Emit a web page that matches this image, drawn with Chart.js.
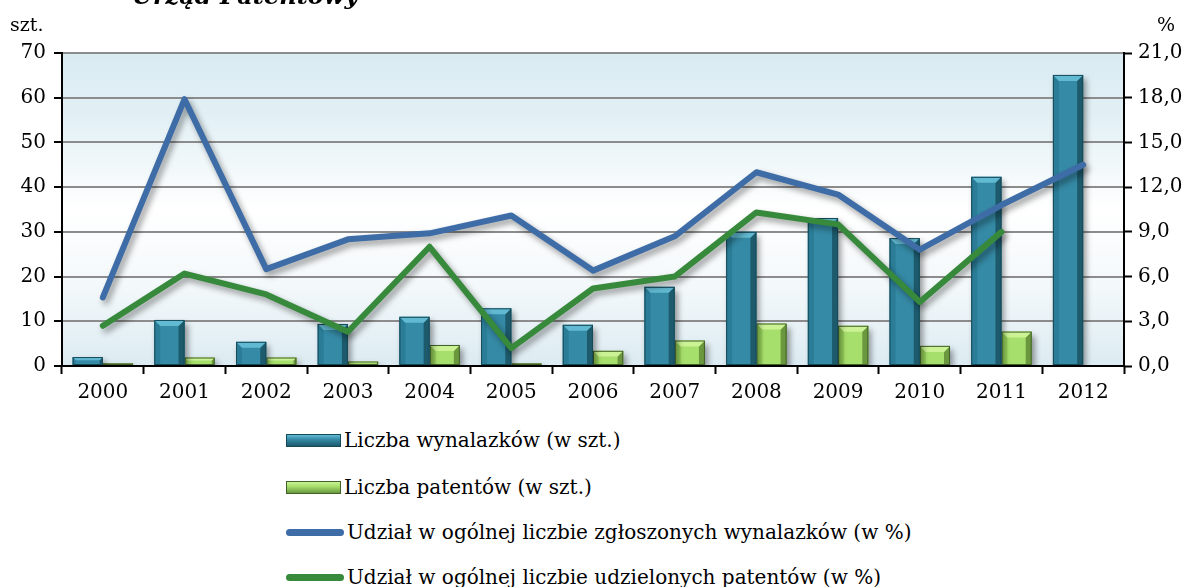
<!DOCTYPE html>
<html lang="pl">
<head>
<meta charset="utf-8">
<script src="https://cdn.jsdelivr.net/npm/chart.js@4.4.1/dist/chart.umd.min.js"></script>
<style>
  html, body { margin: 0; padding: 0; background: #fff; }
  #wrap { position: relative; width: 1192px; height: 587px; overflow: hidden; font-family: 'DejaVu Serif', serif; color: #000; }
  #chart { position: absolute; left: 0; top: 0; }
  .title { position: absolute; left: 132px; top: -19px; font-size: 24px; font-weight: bold; font-style: italic; }
  .unit { position: absolute; font-size: 19px; }
  .legend { position: absolute; left: 0; top: 0; }
  .row { position: absolute; display: flex; align-items: center; font-size: 20px; white-space: nowrap; }
  .sym { display: inline-block; margin-right: 3px; }
</style>
</head>
<body>
<div id="wrap">
  <canvas id="chart" width="1192" height="420"></canvas>
  <div class="title">Urząd Patentowy</div>
  <div class="unit" style="left:10px; top:13px;">szt.</div>
  <div class="unit" style="left:1157px; top:13px;">%</div>
  <div class="legend" id="legend"></div>
</div>
<script>
// years on the x axis
const years = ['2000', '2001', '2002', '2003', '2004', '2005', '2006', '2007', '2008', '2009', '2010', '2011', '2012'];

// counts (left axis, szt.)
const inventions = [2.0, 10.3, 5.4, 9.4, 11.0, 12.9, 9.2, 17.7, 30.0, 33.1, 28.6, 42.3, 65.1];
const patents = [0.6, 1.9, 1.9, 1.0, 4.7, 0.6, 3.4, 5.7, 9.5, 9.0, 4.5, 7.7, null];

// shares (right axis, %)
const inventionShare = [4.6, 17.9, 6.5, 8.5, 8.9, 10.1, 6.4, 8.7, 13.0, 11.5, 7.8, 10.8, 13.5];
const patentShare = [2.7, 6.2, 4.8, 2.3, 8.0, 1.2, 5.2, 6.0, 10.3, 9.5, 4.3, 9.0, null];

const legendLabels = [
  'Liczba wynalazków (w szt.)',
  'Liczba patentów (w szt.)',
  'Udział w ogólnej liczbie zgłoszonych wynalazków (w %)',
  'Udział w ogólnej liczbie udzielonych patentów (w %)'
];

const FONT = "'DejaVu Serif', serif";
const FONT_SIZE = 20;

// bevel colours for the two bar series
const bevel = {
  blue: { main: '#358aa5', top: '#62bad2', left: '#2b7d97', right: '#1d5a6c', edge: '#174a59' },
  green: { main: '#a7df6c', top: '#cbf295', left: '#93cc58', right: '#6b983f', edge: '#41602a' }
};

// light blue -> white -> light blue plot background
const plotBackground = {
  id: 'plotBackground',
  beforeDraw(chart) {
    const { ctx, chartArea: a } = chart;
    const g = ctx.createLinearGradient(0, a.top, 0, a.bottom);
    g.addColorStop(0, '#d9ebf2');
    g.addColorStop(0.2, '#e2f0f5');
    g.addColorStop(0.5, '#ffffff');
    g.addColorStop(0.75, '#f3f8fa');
    g.addColorStop(1, '#dcebf2');
    ctx.save();
    ctx.fillStyle = g;
    ctx.fillRect(a.left, a.top, a.right - a.left, a.bottom - a.top);
    ctx.restore();
  }
};

// soft drop shadow under bars and lines, bevel faces on bars
const shading = {
  id: 'shading',
  beforeDatasetDraw(chart, args) {
    const ctx = chart.ctx;
    ctx.save();
    ctx.shadowColor = 'rgba(0,0,0,0.4)';
    ctx.shadowBlur = 6;
    ctx.shadowOffsetX = 3;
    ctx.shadowOffsetY = 4;
  },
  afterDatasetDraw(chart, args) {
    const ctx = chart.ctx;
    ctx.restore();
    const ds = chart.data.datasets[args.index];
    if (ds.type !== 'bar') return;
    const c = bevel[ds.tone];
    args.meta.data.forEach((bar, i) => {
      if (ds.data[i] == null) return;
      const l = bar.x - bar.width / 2, r = bar.x + bar.width / 2;
      const t = bar.y, b = bar.base;
      const d = Math.min(6, (b - t) / 2.5);
      const poly = (pts, fill) => {
        ctx.beginPath();
        ctx.moveTo(pts[0][0], pts[0][1]);
        pts.slice(1).forEach(p => ctx.lineTo(p[0], p[1]));
        ctx.closePath();
        ctx.fillStyle = fill;
        ctx.fill();
      };
      ctx.save();
      poly([[l, t], [l + d, t + d], [l + d, b], [l, b]], c.left);
      poly([[r, t], [r - d, t + d], [r - d, b], [r, b]], c.right);
      poly([[l, t], [r, t], [r - d, t + d], [l + d, t + d]], c.top);
      ctx.strokeStyle = c.edge;
      ctx.lineWidth = 1;
      ctx.strokeRect(l + 0.5, t + 0.5, r - l - 1, b - t - 1);
      ctx.restore();
    });
  }
};

const chart = new Chart(document.getElementById('chart'), {
  data: {
    labels: years,
    datasets: [
      { type: 'bar', label: legendLabels[0], data: inventions, tone: 'blue', backgroundColor: bevel.blue.main, yAxisID: 'y', order: 2, barPercentage: 1, categoryPercentage: 0.74 },
      { type: 'bar', label: legendLabels[1], data: patents, tone: 'green', backgroundColor: bevel.green.main, yAxisID: 'y', order: 2, barPercentage: 1, categoryPercentage: 0.74 },
      { type: 'line', label: legendLabels[2], data: inventionShare, borderColor: '#3e6ca7', borderWidth: 6, pointRadius: 0, tension: 0, borderCapStyle: 'round', borderJoinStyle: 'round', yAxisID: 'y1', order: 1 },
      { type: 'line', label: legendLabels[3], data: patentShare, borderColor: '#378a3b', borderWidth: 6, pointRadius: 0, tension: 0, borderCapStyle: 'round', borderJoinStyle: 'round', yAxisID: 'y1', order: 0 }
    ]
  },
  options: {
    responsive: false,
    animation: false,
    events: [],
    layout: { padding: { top: 53 } },
    plugins: { legend: { display: false }, tooltip: { enabled: false } },
    scales: {
      x: {
        offset: true,
        grid: { offset: true, drawOnChartArea: false, tickLength: 8, tickColor: '#000', tickWidth: 2 },
        border: { color: '#000', width: 2 },
        ticks: { color: '#000', font: { family: FONT, size: FONT_SIZE }, padding: 7, maxRotation: 0 },
        afterFit(s) { s.height = 54; }
      },
      y: {
        position: 'left',
        min: 0, max: 70,
        ticks: { stepSize: 10, color: '#000', font: { family: FONT, size: FONT_SIZE }, padding: 8 },
        grid: { color: '#8c8c8c', lineWidth: 2, tickLength: 8, tickColor: '#000', tickWidth: 2 },
        border: { color: '#000', width: 2 },
        afterFit(s) { s.width = 62; }
      },
      y1: {
        position: 'right',
        min: 0, max: 21,
        ticks: { stepSize: 3, color: '#000', font: { family: FONT, size: FONT_SIZE }, padding: 6,
          callback: v => v.toFixed(1).replace('.', ',') },
        grid: { drawOnChartArea: false, tickLength: 8, tickColor: '#000', tickWidth: 2 },
        border: { color: '#000', width: 2 },
        afterFit(s) { s.width = 68; }
      }
    }
  },
  plugins: [plotBackground, shading]
});

// legend stacked under the chart, built from the datasets
const rowTops = [428, 475, 520, 565];
const legendBox = document.getElementById('legend');
chart.data.datasets.forEach((ds, i) => {
  const row = document.createElement('div');
  row.className = 'row';
  row.style.left = '286px';
  row.style.top = rowTops[i] + 'px';
  const sym = document.createElement('span');
  sym.className = 'sym';
  if (ds.type === 'bar') {
    const c = bevel[ds.tone];
    sym.style.width = '55px';
    sym.style.height = '13px';
    sym.style.background = `linear-gradient(${c.top}, ${c.main} 40%, ${c.right})`;
    sym.style.border = '1px solid ' + c.edge;
    sym.style.boxSizing = 'border-box';
  } else {
    sym.style.width = '58px';
    sym.style.height = '7px';
    sym.style.borderRadius = '4px';
    sym.style.background = ds.borderColor;
  }
  row.appendChild(sym);
  row.appendChild(document.createTextNode(ds.label));
  legendBox.appendChild(row);
});
</script>
</body>
</html>
